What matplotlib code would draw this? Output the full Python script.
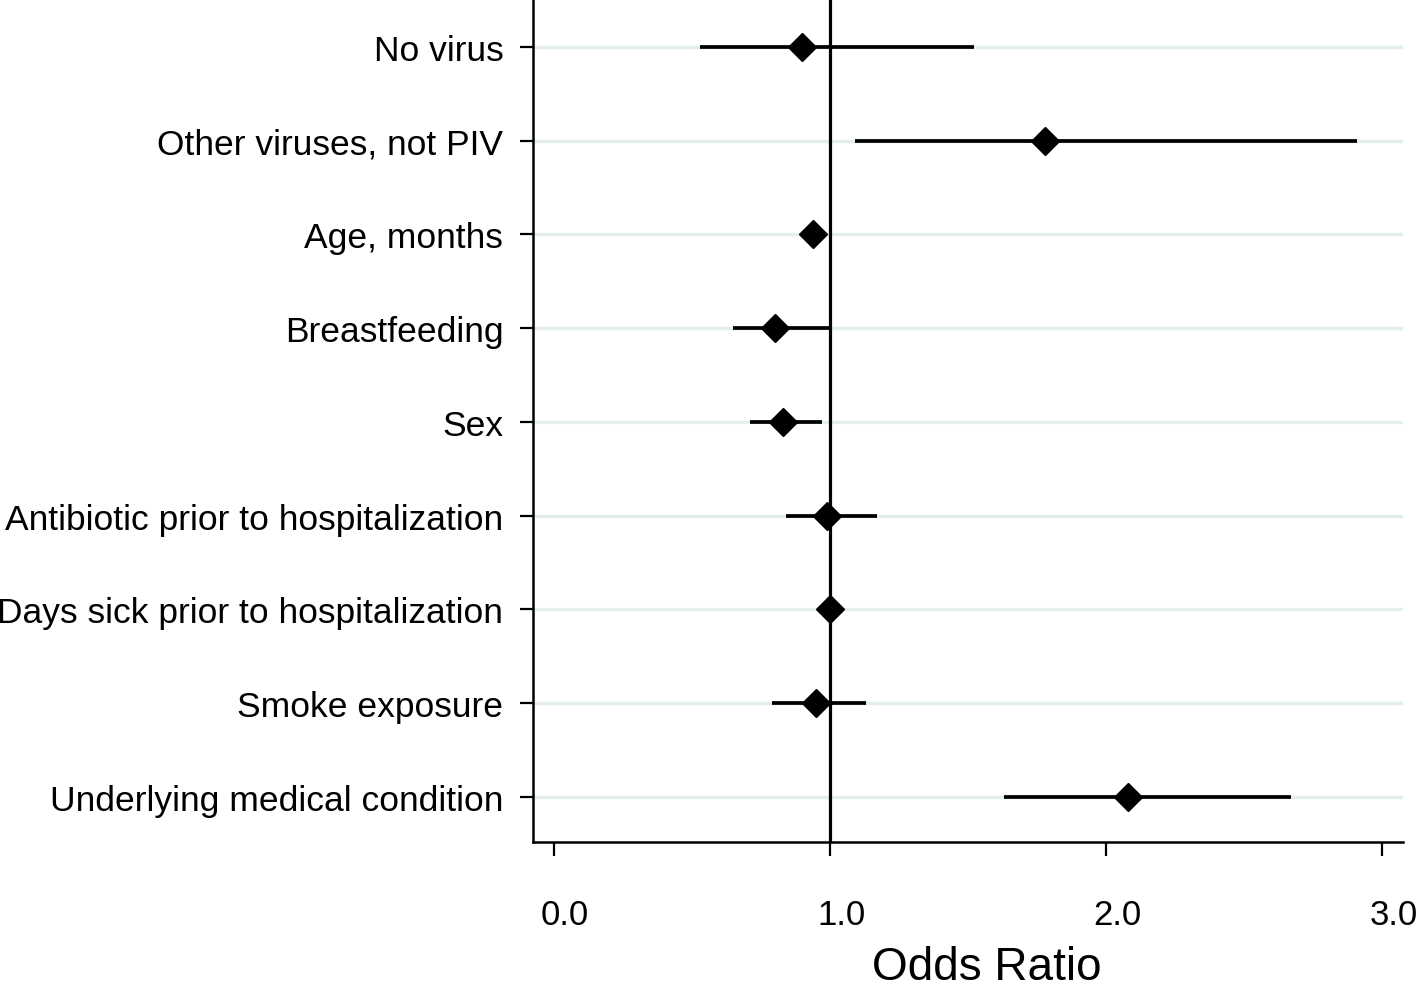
import numpy as np
import matplotlib
matplotlib.use("Agg")
import matplotlib.pyplot as plt
import matplotlib.transforms as mtransforms

plt.rcParams["font.family"] = ["Liberation Sans", "DejaVu Sans"]

# ── Data ──────────────────────────────────────────────────────────────────────
labels = [
    "No virus",
    "Other viruses, not PIV",
    "Age, months",
    "Breastfeeding",
    "Sex",
    "Antibiotic prior to hospitalization",
    "Days sick prior to hospitalization",
    "Smoke exposure",
    "Underlying medical condition",
]
odds_ratio = [0.90, 1.78, 0.94, 0.80, 0.83, 0.99, 1.00, 0.95, 2.08]
ci_low     = [0.53, 1.09, 0.93, 0.65, 0.71, 0.84, 0.99, 0.79, 1.63]
ci_high    = [1.52, 2.91, 0.95, 1.00, 0.97, 1.17, 1.01, 1.13, 2.67]
xticks      = [0.0, 1.0, 2.0, 3.0]
xtick_names = ["0.0", "1.0", "2.0", "3.0"]

y = np.arange(len(labels))

fig = plt.figure(figsize=(14.18, 9.95), dpi=100)
ax = fig.add_axes([0.376, 0.1528, 0.6134, 0.8472])

# light horizontal guide lines
for yy in y:
    ax.axhline(yy, color="#e2efed", lw=2.4, zorder=0)

ax.hlines(y, ci_low, ci_high, color="black", lw=2.7, zorder=2)
ax.plot(odds_ratio, y, "D", color="black", ms=14.5, zorder=3)
ax.axvline(1.0, color="black", lw=2.3, zorder=2)

ax.set_xlim(-0.075, 3.075)
ax.set_ylim(len(labels) - 0.52, -0.512)

ax.set_yticks(y)
ax.set_yticklabels(labels, fontsize=25.5)
ax.set_xticks(xticks)
ax.set_xticklabels(xtick_names, fontsize=25)

ax.tick_params(axis="y", length=9.5, width=1.6, pad=12)
ax.tick_params(axis="x", length=10, width=1.6, pad=30)

# tick labels sit a little to the right of their ticks
offset = mtransforms.ScaledTranslation(8 / 72, 0, fig.dpi_scale_trans)
for lbl in ax.get_xticklabels():
    lbl.set_transform(lbl.get_transform() + offset)

for side in ["top", "right"]:
    ax.spines[side].set_visible(False)
for side in ["left", "bottom"]:
    ax.spines[side].set_linewidth(1.8)

ax.set_xlabel("Odds Ratio", fontsize=33)
ax.xaxis.set_label_coords(0.522, -0.122)
ax.xaxis.label.set_va("top")

plt.savefig("out.png", dpi=100)
plt.close()
